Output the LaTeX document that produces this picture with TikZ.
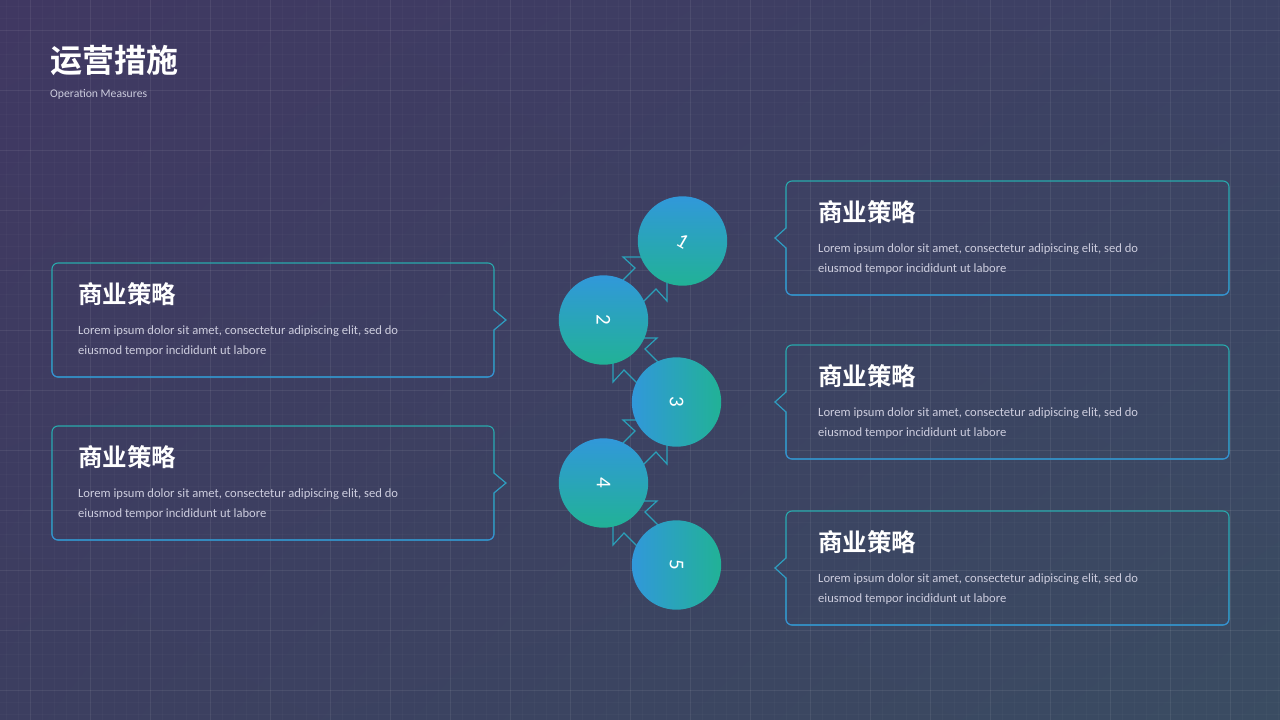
\documentclass[tikz,border=0pt]{standalone}
\usepackage{fontspec}
\setmainfont{Carlito}
\newfontfamily\cjk{Noto Sans CJK SC Bold}
\usetikzlibrary{fadings,shadings}
\definecolor{cblue}{RGB}{49,152,218}
\definecolor{cteal}{RGB}{33,178,150}
\definecolor{bteal}{RGB}{40,170,172}
\definecolor{bblue}{RGB}{56,140,214}
\definecolor{arrowc}{RGB}{42,160,185}
\definecolor{bodyc}{RGB}{205,205,222}
\definecolor{bgUL}{RGB}{64,56,98}
\definecolor{bgUR}{RGB}{60,66,100}
\definecolor{bgLL}{RGB}{60,62,96}
\definecolor{bgLR}{RGB}{58,76,98}
\tikzset{
  minorgrid/.style={white, opacity=0.022, line width=0.6},
  majorgrid/.style={white, opacity=0.055, line width=0.8},
  boxline/.style={bteal, line width=1.1, line join=miter, postaction={draw=bblue, line width=1.1, path fading=north}},
  headtxt/.style={font=\cjk\fontsize{24.5}{24.5}\selectfont, text=white, inner sep=0pt, anchor=base west},
  bodytxt/.style={font=\fontsize{12.6}{14}\selectfont, text=bodyc, inner sep=0pt, anchor=base west},
  arrowshape/.style={draw=arrowc, line width=1.2, line join=miter},
  numcircle/.style={circle, minimum size=89.4pt, inner sep=0pt, draw=none},
  numtxt/.style={font=\fontsize{21}{21}\selectfont, text=white, inner sep=0pt},
}
\newcommand\boxL[2]{%
  \draw[boxline] (494,#1+67) [rounded corners=6] -- (494,#1+114) -- (52,#1+114) -- (52,#1) -- (494,#1) [sharp corners] -- (494,#1+47) -- (506,#1+57) -- cycle;
  \node[headtxt] (h#2) at (78,#1+40) {商业策略};
  \node[bodytxt] (a#2) at (78,#1+71) {Lorem ipsum dolor sit amet, consectetur adipiscing elit, sed do};
  \node[bodytxt] (b#2) at (78,#1+91) {eiusmod tempor incididunt ut labore};
}
\newcommand\boxR[2]{%
  \draw[boxline] (786,#1+47) [rounded corners=6] -- (786,#1) -- (1229,#1) -- (1229,#1+114) -- (786,#1+114) [sharp corners] -- (786,#1+67) -- (775,#1+57) -- cycle;
  \node[headtxt] (h#2) at (818,#1+40) {商业策略};
  \node[bodytxt] (a#2) at (818,#1+71) {Lorem ipsum dolor sit amet, consectetur adipiscing elit, sed do};
  \node[bodytxt] (b#2) at (818,#1+91) {eiusmod tempor incididunt ut labore};
}
\newcommand\arrowpoly{(0,0) -- (-44,0) -- (-32,11) -- (-82,61) -- (-61,82) -- (-11,32) -- (0,44) -- cycle}
\begin{document}
\begin{tikzpicture}[x=1pt,y=-1pt]
\useasboundingbox (0,0) rectangle (1280,720);
\shade[upper left=bgUL, upper right=bgUR, lower left=bgLL, lower right=bgLR] (0,0) rectangle (1280,720);
\foreach \x in {6,18,...,1278} \draw[minorgrid] (\x,0) -- (\x,720);
\foreach \y in {6,18,...,714} \draw[minorgrid] (0,\y) -- (1280,\y);
\foreach \x in {30,90,...,1270} \draw[majorgrid] (\x,0) -- (\x,720);
\foreach \y in {30,90,...,690} \draw[majorgrid] (0,\y) -- (1280,\y);

\node[font=\cjk\fontsize{32}{32}\selectfont, text=white, inner sep=0pt, anchor=base west] (title) at (50,72) {运营措施};
\node[font=\fontsize{11.7}{13}\selectfont, text=bodyc, inner sep=0pt, anchor=base west] (subtitle) at (50,97) {Operation Measures};

\boxL{263}{L1}
\boxL{426}{L2}
\boxR{181}{R1}
\boxR{345}{R2}
\boxR{511}{R3}

% arrows (drawn beneath circles)
\begin{scope}[shift={(667,257)}] \draw[arrowshape] \arrowpoly; \end{scope}
\begin{scope}[shift={(613,338)}, xscale=-1] \draw[arrowshape] \arrowpoly; \end{scope}
\begin{scope}[shift={(667,420)}] \draw[arrowshape] \arrowpoly; \end{scope}
\begin{scope}[shift={(613,501)}, xscale=-1] \draw[arrowshape] \arrowpoly; \end{scope}

\node[numcircle, top color=cblue, bottom color=cteal] (c1) at (682.5,241) {};
\node[numcircle, top color=cblue, bottom color=cteal] (c2) at (603.5,320) {};
\node[numcircle, left color=cblue, right color=cteal] (c3) at (676.5,402) {};
\node[numcircle, top color=cblue, bottom color=cteal] (c4) at (603.5,483) {};
\node[numcircle, left color=cblue, right color=cteal] (c5) at (676.5,565) {};
\node[numtxt, rotate=-30] (n1) at (c1) {1};
\node[numtxt, rotate=-90] (n2) at (c2) {2};
\node[numtxt, rotate=-90] (n3) at (c3) {3};
\node[numtxt, rotate=-90] (n4) at (c4) {4};
\node[numtxt, rotate=-90] (n5) at (c5) {5};
\end{tikzpicture}
\end{document}
